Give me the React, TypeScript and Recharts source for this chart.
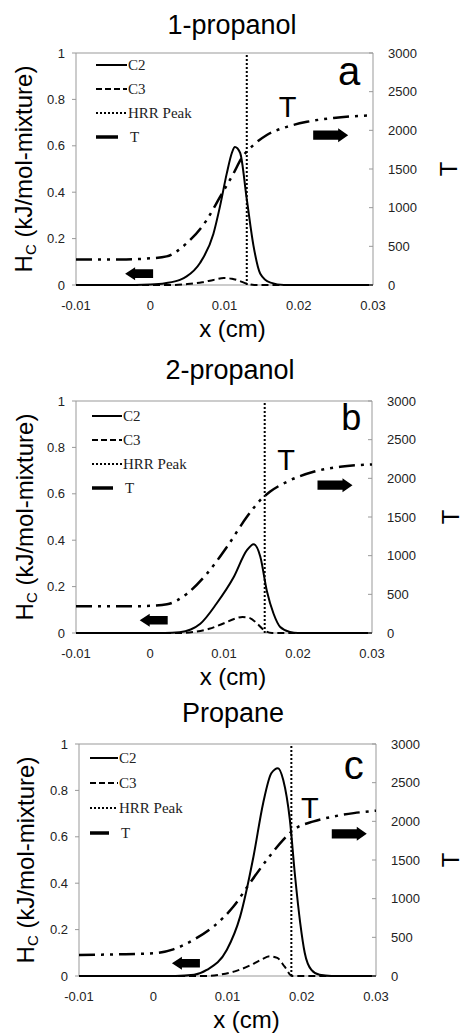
import {
  ComposedChart,
  Line,
  XAxis,
  YAxis,
  ReferenceLine,
  ReferenceDot,
  ReferenceArea,
  Legend,
  Label,
} from "recharts";

const SANS = "'Liberation Sans', Arial, sans-serif";
const SERIF = "'Liberation Serif', 'Times New Roman', serif";

const xTicks = [-0.01, 0, 0.01, 0.02, 0.03];
const hcTicks = [0, 0.2, 0.4, 0.6, 0.8, 1];
const tTicks = [0, 500, 1000, 1500, 2000, 2500, 3000];
const legendNames = ["C2", "C3", "HRR Peak", "T"];
const titles = ["1-propanol", "2-propanol", "Propane"];
const letters = ["a", "b", "c"];

// 1-propanol
const c2XA = [-0.01, -0.002, 0.0, 0.002, 0.004, 0.0049, 0.0067, 0.0085, 0.0094, 0.0103, 0.011, 0.0114, 0.0121, 0.013, 0.0139, 0.0148, 0.0162, 0.018, 0.03];
const c2A = [0, 0, 0.002, 0.008, 0.022, 0.037, 0.095, 0.22, 0.34, 0.48, 0.57, 0.595, 0.57, 0.37, 0.17, 0.05, 0.01, 0, 0];
const c3XA = [-0.01, 0.003, 0.005, 0.007, 0.0085, 0.0099, 0.011, 0.012, 0.013, 0.014, 0.03];
const c3A = [0, 0, 0.004, 0.012, 0.022, 0.03, 0.027, 0.018, 0.006, 0, 0];
const tXA = [-0.01, -0.004, 0, 0.0022, 0.0049, 0.0076, 0.0094, 0.0112, 0.0123, 0.0139, 0.0157, 0.0184, 0.0211, 0.0247, 0.03];
const tA = [330, 330, 345, 370, 540, 840, 1140, 1440, 1640, 1810, 1940, 2045, 2110, 2160, 2195];
const hrrA = 0.013;

// 2-propanol
const c2XB = [-0.01, 0.002, 0.004, 0.0055, 0.0068, 0.009, 0.0113, 0.0131, 0.014, 0.0149, 0.0158, 0.0167, 0.0176, 0.0189, 0.02, 0.03];
const c2B = [0, 0, 0.003, 0.015, 0.04, 0.127, 0.24, 0.357, 0.383, 0.33, 0.18, 0.083, 0.026, 0.005, 0, 0];
const c3XB = [-0.01, 0.004, 0.006, 0.008, 0.01, 0.0115, 0.0125, 0.0135, 0.0145, 0.0155, 0.0165, 0.03];
const c3B = [0, 0, 0.005, 0.018, 0.042, 0.062, 0.069, 0.064, 0.04, 0.01, 0, 0];
const tXB = [-0.01, -0.003, 0, 0.0023, 0.005, 0.0077, 0.0104, 0.0131, 0.0149, 0.0162, 0.0185, 0.0221, 0.0257, 0.03];
const tB = [345, 345, 352, 371, 509, 768, 1114, 1502, 1718, 1826, 1955, 2085, 2150, 2180];
const hrrB = 0.0155;

// Propane
const c2XC = [-0.01, 0.003, 0.0055, 0.0072, 0.0099, 0.0117, 0.0135, 0.0148, 0.0159, 0.0168, 0.0175, 0.0184, 0.0191, 0.0198, 0.0204, 0.0213, 0.0224, 0.024, 0.03];
const c2C = [0, 0, 0.005, 0.026, 0.112, 0.256, 0.515, 0.745, 0.874, 0.896, 0.846, 0.673, 0.43, 0.227, 0.1, 0.026, 0.005, 0, 0];
const c3XC = [-0.01, 0.007, 0.009, 0.011, 0.013, 0.0145, 0.0157, 0.0167, 0.0177, 0.0187, 0.03];
const c3C = [0, 0, 0.006, 0.02, 0.045, 0.07, 0.085, 0.078, 0.04, 0, 0];
const tXC = [-0.01, -0.005, 0, 0.0027, 0.0054, 0.0081, 0.0108, 0.013, 0.0153, 0.0175, 0.0189, 0.0216, 0.0243, 0.027, 0.03];
const tC = [272, 280, 293, 345, 466, 639, 898, 1200, 1502, 1761, 1890, 1999, 2063, 2106, 2137];
const hrrC = 0.0186;

const pts = (xs: number[], ys: number[]) => xs.map((x, i) => ({ x, y: ys[i] }));

const arrowShape = (dir: number, w: number, h: number) => (p: any) => {
  const { cx, cy } = p;
  const head = 10;
  const bh = h * 0.33;
  const tip = cx + (dir * w) / 2;
  const base = cx - (dir * w) / 2;
  const neck = tip - dir * head;
  const d = `M${tip},${cy} L${neck},${cy - h / 2} L${neck},${cy - bh} L${base},${cy - bh} L${base},${cy + bh} L${neck},${cy + bh} L${neck},${cy + h / 2} Z`;
  return <path d={d} fill="#000" />;
};

const textShape = (txt: string, size: number) => (p: any) => (
  <text x={p.cx} y={p.cy} textAnchor="middle" dominantBaseline="central" fontSize={size} fontFamily={SANS} fill="#000">
    {txt}
  </text>
);

interface PanelProps {
  idx: number;
  c2: { x: number; y: number }[];
  c3: { x: number; y: number }[];
  t: { x: number; y: number }[];
  hrr: number;
  lay: any;
}

const Panel = ({ idx, c2, c3, t, hrr, lay }: PanelProps) => {
  const H = 345;
  const plotCx = (lay.left + lay.right) / 2;
  const plotCy = (lay.plotTop + lay.plotBottom) / 2;

  const renderLegend = () => (
    <svg width={130} height={105}>
      {legendNames.map((name, i) => {
        const y = 8 + i * lay.gap;
        const isT = name === "T";
        const len = isT ? lay.len - 9 : lay.len;
        const dash = name === "C3" ? "6 3" : name === "HRR Peak" ? "2 2" : undefined;
        return (
          <g key={name}>
            <line x1={0} x2={len} y1={y} y2={y} stroke="#000" strokeWidth={isT ? 3.5 : 2} strokeDasharray={dash} />
            <text x={isT ? len + 12 : len + 1} y={y} dominantBaseline="central" fontSize={15} fontFamily={SERIF} fill="#222">
              {name}
            </text>
          </g>
        );
      })}
    </svg>
  );

  const rightTick = (p: any) => (
    <g>
      <line x1={lay.right - 4} x2={lay.right} y1={p.y} y2={p.y} stroke="#999" />
      <text x={lay.right + 15} y={p.y} dy="0.35em" textAnchor="start" fontSize={13} fontFamily={SANS} fill="#222">
        {p.payload.value}
      </text>
    </g>
  );

  return (
    <div style={{ position: "absolute", left: 0, top: lay.top, width: 463, height: H }}>
      <div
        style={{
          position: "absolute",
          left: lay.titleX - 150,
          width: 300,
          top: lay.titleY - 16,
          textAlign: "center",
          fontFamily: SANS,
          fontSize: 27,
          lineHeight: "32px",
          color: "#000",
        }}
      >
        {titles[idx]}
      </div>
      <ComposedChart width={463} height={H} margin={{ top: lay.plotTop, right: 0, bottom: 0, left: 0 }}>
        <XAxis
          type="number"
          dataKey="x"
          domain={[-0.01, 0.03]}
          ticks={xTicks}
          allowDataOverflow
          axisLine={false}
          tickLine={false}
          tickMargin={10}
          height={H - lay.plotBottom}
          tick={{ fontSize: 13, fill: "#222", fontFamily: SANS }}
        >
          <Label
            content={() => (
              <text x={plotCx + lay.xlDx} y={lay.plotBottom + 43} textAnchor="middle" dominantBaseline="central" fontSize={24} fontFamily={SANS} fill="#000">
                x (cm)
              </text>
            )}
          />
        </XAxis>
        <YAxis
          yAxisId="left"
          domain={[0, 1]}
          ticks={hcTicks}
          width={lay.left}
          axisLine={false}
          tickSize={4}
          tickMargin={7}
          tickLine={{ stroke: "#999" }}
          tick={{ fontSize: 13, fill: "#222", fontFamily: SANS }}
        >
          <Label
            content={() => (
              <text
                x={lay.ylX}
                y={plotCy}
                transform={`rotate(-90 ${lay.ylX} ${plotCy})`}
                textAnchor="middle"
                dominantBaseline="central"
                fontSize={24}
                fontFamily={SANS}
                fill="#000"
              >
                <tspan>H</tspan>
                <tspan fontSize={15} dy={7}>C</tspan>
                <tspan dy={-7}> (kJ/mol-mixture)</tspan>
              </text>
            )}
          />
        </YAxis>
        <YAxis
          yAxisId="right"
          orientation="right"
          domain={[0, 3000]}
          ticks={tTicks}
          width={463 - lay.right}
          axisLine={false}
          tickLine={false}
          tick={rightTick}
        >
          <Label
            content={() => (
              <text
                x={lay.trX}
                y={plotCy}
                transform={`rotate(-90 ${lay.trX} ${plotCy})`}
                textAnchor="middle"
                dominantBaseline="central"
                fontSize={24}
                fontFamily={SANS}
                fill="#000"
              >
                T
              </text>
            )}
          />
        </YAxis>
        <ReferenceArea yAxisId="left" x1={-0.01} x2={0.03} y1={0} y2={1} fill="none" stroke="#999" strokeWidth={1} />
        <Legend
          layout="vertical"
          align="center"
          verticalAlign="middle"
          content={renderLegend}
          wrapperStyle={{ left: lay.left + lay.legDx, top: lay.plotTop + lay.legDy, width: 130 }}
        />
        <Line yAxisId="left" data={c2} dataKey="y" type="monotone" stroke="#000" strokeWidth={2} dot={false} isAnimationActive={false} />
        <Line yAxisId="left" data={c3} dataKey="y" type="monotone" stroke="#000" strokeWidth={2} strokeDasharray="7 4" dot={false} isAnimationActive={false} />
        <Line yAxisId="right" data={t} dataKey="y" type="monotone" stroke="#000" strokeWidth={2.5} strokeDasharray="16 6 3 6 3 6" dot={false} isAnimationActive={false} />
        <ReferenceLine yAxisId="left" x={hrr} stroke="#000" strokeWidth={2} strokeDasharray="2 2" />
        <ReferenceDot yAxisId="left" x={lay.arrowL[0]} y={lay.arrowL[1]} shape={arrowShape(-1, 28, 13)} />
        <ReferenceDot yAxisId="left" x={lay.arrowR[0]} y={lay.arrowR[1]} shape={arrowShape(1, 35, 14)} />
        <ReferenceDot yAxisId="left" x={lay.tLab[0]} y={lay.tLab[1]} shape={textShape("T", 29)} />
        <ReferenceDot yAxisId="left" x={lay.letter[0]} y={lay.letter[1]} shape={textShape(letters[idx], idx === 1 ? 36 : 40)} />
      </ComposedChart>
    </div>
  );
};

const layA = {
  top: 0, plotTop: 53, plotBottom: 285, left: 76, right: 373,
  titleX: 232, titleY: 25, xlDx: 8, ylX: 23, trX: 448,
  legDx: 20, legDy: 4, gap: 24, len: 31,
  arrowL: [-0.0015, 0.049], arrowR: [0.0243, 0.646], tLab: [0.0185, 0.767], letter: [0.0268, 0.921],
};
const layB = {
  top: 345, plotTop: 56, plotBottom: 288, left: 76, right: 372,
  titleX: 230, titleY: 25, xlDx: 9, ylX: 24, trX: 450,
  legDx: 16, legDy: 7, gap: 24, len: 30,
  arrowL: [0.0005, 0.055], arrowR: [0.025, 0.637], tLab: [0.0184, 0.745], letter: [0.0272, 0.927],
};
const layC = {
  top: 690, plotTop: 54, plotBottom: 286, left: 79, right: 376,
  titleX: 233, titleY: 23, xlDx: 19, ylX: 25, trX: 450,
  legDx: 11, legDy: 6, gap: 25, len: 28,
  arrowL: [0.0044, 0.055], arrowR: [0.0264, 0.613], tLab: [0.0211, 0.724], letter: [0.027, 0.909],
};

export default function App() {
  return (
    <div style={{ position: "fixed", left: 0, top: 0, width: 463, height: 1035, background: "#fff", overflow: "hidden" }}>
      <Panel idx={0} c2={pts(c2XA, c2A)} c3={pts(c3XA, c3A)} t={pts(tXA, tA)} hrr={hrrA} lay={layA} />
      <Panel idx={1} c2={pts(c2XB, c2B)} c3={pts(c3XB, c3B)} t={pts(tXB, tB)} hrr={hrrB} lay={layB} />
      <Panel idx={2} c2={pts(c2XC, c2C)} c3={pts(c3XC, c3C)} t={pts(tXC, tC)} hrr={hrrC} lay={layC} />
    </div>
  );
}
